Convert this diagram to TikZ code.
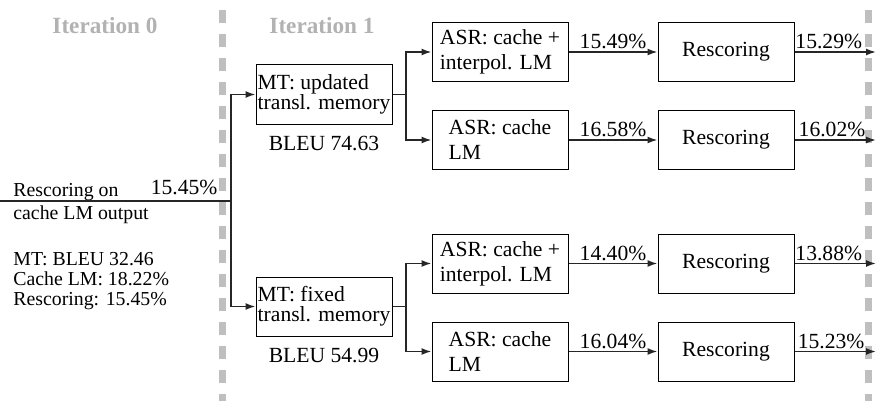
\documentclass[tikz,border=0pt]{standalone}
\usepackage{fontspec}
\setmainfont{Liberation Serif}
\usetikzlibrary{arrows.meta}
\begin{document}
\begin{tikzpicture}[x=0.5pt,y=-0.5pt,
  font=\fontsize{10.8}{10}\selectfont,
  box/.style={draw=black,line width=0.5pt,minimum width=68pt,minimum height=29.5pt,inner sep=0pt},
  mtbox/.style={box,align=left},
  asrbox/.style={box,align=left,font=\fontsize{10.8}{12.5}\selectfont},
  conn/.style={draw=black!85,line width=0.8pt},
  arr/.style={conn,-{Latex[length=5pt,width=3.5pt]}},
  pct/.style={above,inner sep=1pt},
  lefttext/.style={inner sep=0pt,font=\fontsize{9.9}{10}\selectfont},
  sep/.style={draw=black!25,line width=3.5pt,dash pattern=on 6.5pt off 5.5pt},
  iter/.style={text=black!30,inner sep=0pt,font=\fontsize{11.6}{12}\selectfont\bfseries}]
\useasboundingbox (0,0) rectangle (876,401);
\draw[sep] (222,10) -- (222,401);
\draw[sep] (868,10) -- (868,401);
\node[iter] (it0) at (105,26) {Iteration 0};
\node[iter] (it1) at (322,26) {Iteration 1};
\node[lefttext,anchor=base west] (rescon) at (13,196) {Rescoring on};
\node[lefttext,anchor=base west] (cacheout) at (13,219) {cache LM output};
\node[lefttext,anchor=north west,align=left] (summary) at (13,252) {MT: BLEU 32.46\\Cache LM: 18.22\%\\Rescoring: 15.45\%};
\coordinate (in0) at (0,201);
\coordinate (split0) at (231,201);
\node[mtbox] (mtupd) at (324,94.5) {MT: updated\\transl. memory};
\node[mtbox] (mtfix) at (324,306.5) {MT: fixed\\transl. memory};
\node[anchor=north,inner sep=0pt] (bleuupd) at ([yshift=-5.5pt]mtupd.south) {BLEU 74.63};
\node[anchor=north,inner sep=0pt] (bleufix) at ([yshift=-5.5pt]mtfix.south) {BLEU 54.99};
\coordinate (split1) at (406,94.5);
\coordinate (split2) at (406,306.5);
\node[asrbox] (asrA) at (500,52) {ASR: cache +\\interpol. LM};
\node[asrbox] (asrB) at (500,140) {ASR: cache\\LM};
\node[asrbox] (asrC) at (500,263.5) {ASR: cache +\\interpol. LM};
\node[asrbox] (asrD) at (500,351.5) {ASR: cache\\LM};
\node[box] (resA) at (726,52) {Rescoring};
\node[box] (resB) at (726,140) {Rescoring};
\node[box] (resC) at (726,263.5) {Rescoring};
\node[box] (resD) at (726,351.5) {Rescoring};
\coordinate (outA) at (876,52);
\coordinate (outB) at (876,140);
\coordinate (outC) at (876,263.5);
\coordinate (outD) at (876,351.5);
\draw[conn] (in0) -- node[pct,pos=0.797,inner sep=2.5pt] {15.45\%} (split0);
\draw[arr] (split0) |- (mtupd.west);
\draw[arr] (split0) |- (mtfix.west);
\draw[conn] (mtupd.east) -- (split1);
\draw[conn] (mtfix.east) -- (split2);
\draw[arr] (split1) |- (asrA.west);
\draw[arr] (split1) |- (asrB.west);
\draw[arr] (split2) |- (asrC.west);
\draw[arr] (split2) |- (asrD.west);
\draw[arr] (asrA) -- node[pct] {15.49\%} (resA);
\draw[arr] (asrB) -- node[pct] {16.58\%} (resB);
\draw[arr] (asrC) -- node[pct] {14.40\%} (resC);
\draw[arr] (asrD) -- node[pct] {16.04\%} (resD);
\draw[arr] (resA) -- node[pct,pos=0.42] {15.29\%} (outA);
\draw[arr] (resB) -- node[pct,pos=0.46] {16.02\%} (outB);
\draw[arr] (resC) -- node[pct,pos=0.42] {13.88\%} (outC);
\draw[arr] (resD) -- node[pct,pos=0.45] {15.23\%} (outD);
\end{tikzpicture}
\end{document}
